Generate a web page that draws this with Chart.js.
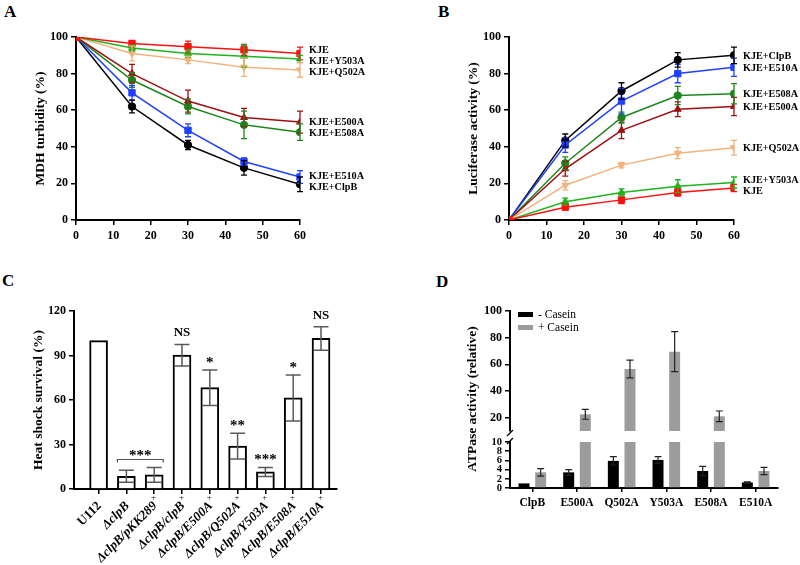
<!DOCTYPE html>
<html>
<head>
<meta charset="utf-8">
<script src="https://cdn.jsdelivr.net/npm/chart.js@4.4.1/dist/chart.umd.min.js"></script>
<style>
  body { margin: 0; background: #fff; width: 800px; height: 565px; position: relative; overflow: hidden; }
  canvas { position: absolute; }
  .panel { position: absolute; font: bold 17px "Liberation Serif", serif; line-height: 1; }
</style>
</head>
<body>
<div class="panel" style="left:4px;top:3px">A</div>
<div class="panel" style="left:438px;top:3px">B</div>
<div class="panel" style="left:2px;top:272px">C</div>
<div class="panel" style="left:436px;top:273px">D</div>
<canvas id="cA" width="400" height="270" style="left:0;top:0"></canvas>
<canvas id="cB" width="400" height="270" style="left:400px;top:0"></canvas>
<canvas id="cC" width="400" height="295" style="left:0;top:270px"></canvas>
<canvas id="cD1" width="400" height="295" style="left:400px;top:270px"></canvas>
<canvas id="cD2" width="400" height="295" style="left:400px;top:270px"></canvas>
<script>
// ---- data ----
const timeMin = [0, 15, 30, 45, 60];
const seriesNames = ['KJE', 'KJE+Y503A', 'KJE+Q502A', 'KJE+E500A', 'KJE+E508A', 'KJE+E510A', 'KJE+ClpB'];

// A: MDH turbidity (%), same order as seriesNames
const mdhValues = [
  [100, 96.5, 94.7, 93, 91],
  [100, 94, 91, 89.5, 88],
  [100, 91, 87.5, 83.5, 82],
  [100, 80, 65, 56, 53.5],
  [100, 76.5, 62, 52, 48],
  [100, 69.5, 49, 32, 23.5],
  [100, 62, 41, 28.5, 19.5]
];
const mdhErrors = [
  [0, 1.5, 3, 3, 3.5],
  [0, 1.5, 2, 6, 2],
  [0, 4, 2, 5, 4],
  [0, 5, 6, 5, 6],
  [0, 4, 4, 7.5, 4.5],
  [0, 4, 3.5, 2, 3.5],
  [0, 3.5, 2.5, 4, 4]
];

// B: luciferase activity (%)
const lucValues = [
  [0, 7, 11, 15, 17.5],
  [0, 10, 15, 18.5, 20.5],
  [0, 19, 30, 36.5, 39.5],
  [0, 28, 49, 60.5, 62],
  [0, 31, 56, 68, 69],
  [0, 41, 65, 80, 83.5],
  [0, 43.5, 70.5, 87.5, 90]
];
const lucErrors = [
  [0, 1.5, 2, 2, 2],
  [0, 2, 2, 3.5, 3],
  [0, 2.5, 1.5, 3, 4],
  [0, 4, 4.5, 4, 5],
  [0, 3.5, 3, 5, 5.5],
  [0, 4, 7, 5, 5],
  [0, 3.5, 4.5, 4, 4.5]
];

// C: heat shock survival (%)
const strains = ['U112', 'ΔclpB', 'ΔclpB/pKK289', 'ΔclpB/clpB', 'ΔclpB/E500A', 'ΔclpB/Q502A', 'ΔclpB/Y503A', 'ΔclpB/E508A', 'ΔclpB/E510A'];
const strainMarks = ['', '', '×', '×', '×', '×', '×', '×', '×'];
const survival = [100, 8.6, 9.5, 90.2, 68.3, 28.9, 11.5, 61.4, 101.5];
const survivalErr = [0, 4, 5, 7.3, 12, 8.7, 3, 15.5, 7.9];
const significance = ['', '', '', 'NS', '*', '**', '***', '*', 'NS'];
const bracketGroup = [1, 2];
const bracketText = '***';

// D: ATPase activity (relative)
const mutants = ['ClpB', 'E500A', 'Q502A', 'Y503A', 'E508A', 'E510A'];
const atpNoCasein = [1, 3.4, 5.9, 6.1, 3.7, 1.2];
const atpNoCaseinErr = [0, 0.6, 0.9, 0.7, 1, 0.15];
const atpCasein = [3.4, 22.5, 56.5, 69.5, 21, 3.7];
const atpCaseinErr = [0.8, 3.7, 6.6, 15, 4, 0.8];

// ---- styles ----
const seriesColors = ['#ff1010', '#1fb31f', '#f3b27c', '#9e1010', '#1f861f', '#2040ff', '#000000'];
const seriesMarkers = ['rect', 'triangle', 'triangle', 'triangle', 'circle', 'rect', 'circle'];
const markerRotation = [0, 0, 180, 0, 0, 0, 0];
const markerRadius = [4.5, 4, 4, 4, 3.7, 4.5, 3.7];
const FONT = '"Liberation Serif", "Times New Roman", serif';

Chart.defaults.font.family = FONT;
Chart.defaults.font.weight = 'bold';
Chart.defaults.font.size = 12;
Chart.defaults.color = '#000';
Chart.defaults.animation = false;
Chart.defaults.responsive = false;
Chart.defaults.plugins.legend.display = false;
Chart.defaults.plugins.tooltip.enabled = false;

function fixedTicks(values) {
  return axis => { axis.ticks = values.map(v => ({value: v})); };
}
const gridStyle = {drawOnChartArea: false, tickLength: 5, color: '#000', lineWidth: 1.5, offset: false};
const borderStyle = {color: '#000', width: 2};

function yAxis(min, max, vals, width, title, size) {
  return {
    min: min, max: max,
    afterBuildTicks: fixedTicks(vals),
    afterFit: s => { s.width = width; },
    grid: gridStyle, border: borderStyle,
    ticks: {padding: 3, autoSkip: false, font: {size: size || 12}},
    title: title ? {display: true, text: title, font: {size: 13.5, weight: 'bold'}, padding: {top: 4, bottom: 4}} : {display: false}
  };
}
function timeAxis() {
  return {
    type: 'linear', min: 0, max: 60,
    afterBuildTicks: fixedTicks([0, 10, 20, 30, 40, 50, 60]),
    afterFit: s => { s.height = 30; },
    grid: gridStyle, border: borderStyle,
    ticks: {padding: 4}
  };
}

// error bars, drawn on the chart's own y scale
const errorBars = {
  id: 'errorBars',
  afterDatasetsDraw(chart, args, opts) {
    const ctx = chart.ctx, ys = chart.scales.y, a = chart.chartArea;
    chart.data.datasets.forEach((ds, i) => {
      if (!ds.errors) return;
      const meta = chart.getDatasetMeta(i);
      ctx.save();
      ctx.beginPath();
      ctx.rect(a.left - 10, a.top - 40, a.right - a.left + 20, a.bottom - a.top + 40);
      ctx.clip();
      ctx.strokeStyle = opts.color || ds.borderColor;
      ctx.lineWidth = opts.width || 1.3;
      meta.data.forEach((el, j) => {
        const e = ds.errors[j];
        const raw = ds.data[j];
        const v = (typeof raw === 'object') ? raw.y : raw;
        if (!e || v < ys.min || v > ys.max) return;
        const x = el.x, y1 = ys.getPixelForValue(v + e), y2 = ys.getPixelForValue(v - e);
        const c = opts.cap || 3;
        ctx.beginPath();
        ctx.moveTo(x, y1); ctx.lineTo(x, y2);
        ctx.moveTo(x - c, y1); ctx.lineTo(x + c, y1);
        ctx.moveTo(x - c, y2); ctx.lineTo(x + c, y2);
        ctx.stroke();
      });
      ctx.restore();
    });
  }
};

// series names at the right end of each line
const endLabels = {
  id: 'endLabels',
  afterDraw(chart, args, opts) {
    const ctx = chart.ctx;
    const items = chart.data.datasets.map((ds, i) => {
      const pts = chart.getDatasetMeta(i).data;
      return {text: ds.label, y: pts[pts.length - 1].y};
    }).sort((p, q) => p.y - q.y);
    for (let k = 0; k < 60; k++) {
      for (let i = 1; i < items.length; i++) {
        const d = items[i].y - items[i - 1].y;
        if (d < opts.gap) {
          const s = (opts.gap - d) / 2;
          items[i].y += s; items[i - 1].y -= s;
        }
      }
    }
    ctx.save();
    ctx.font = 'bold 10.2px ' + FONT;
    ctx.fillStyle = '#000';
    ctx.textBaseline = 'middle';
    ctx.textAlign = 'left';
    items.forEach(it => ctx.fillText(it.text, chart.chartArea.right + opts.dx, it.y + 1));
    ctx.restore();
  }
};

function lineChart(id, values, errors, title, padLeft, padRight) {
  return new Chart(document.getElementById(id), {
    type: 'line',
    data: {
      datasets: seriesNames.map((name, i) => ({
        label: name,
        data: timeMin.map((t, j) => ({x: t, y: values[i][j]})),
        errors: errors[i],
        borderColor: seriesColors[i],
        backgroundColor: seriesColors[i],
        borderWidth: 1.5,
        pointStyle: seriesMarkers[i],
        rotation: markerRotation[i],
        pointRadius: markerRadius[i],
        pointBorderWidth: 1,
        tension: 0
      }))
    },
    options: {
      layout: {padding: {left: padLeft, top: 37, right: padRight, bottom: 20}},
      scales: {
        x: timeAxis(),
        y: yAxis(0, 100, [0, 20, 40, 60, 80, 100], 48, title)
      },
      plugins: {errorBars: {cap: 3, width: 1.3}, endLabels: {gap: 11, dx: 9}}
    },
    plugins: [errorBars, endLabels]
  });
}

lineChart('cA', mdhValues, mdhErrors, 'MDH turbidity (%)', 28, 100);
lineChart('cB', lucValues, lucErrors, 'Luciferase activity (%)', 61, 66);

// ---- C ----
const strainLabels = {
  id: 'strainLabels',
  afterDraw(chart) {
    const ctx = chart.ctx, xs = chart.scales.x, bottom = chart.chartArea.bottom;
    strains.forEach((name, i) => {
      const x = xs.getPixelForValue(i);
      ctx.save();
      ctx.translate(x + 1, bottom + 15);
      ctx.rotate(-Math.PI / 4);
      ctx.fillStyle = '#000';
      ctx.textBaseline = 'middle';
      ctx.textAlign = 'right';
      ctx.font = (i === 0 ? '' : 'italic ') + 'bold 13px ' + FONT;
      ctx.fillText(name, 0, 0);
      if (strainMarks[i]) {
        ctx.textAlign = 'left';
        ctx.font = '8px ' + FONT;
        ctx.fillText(strainMarks[i], 1, -5);
      }
      ctx.restore();
    });
  }
};
const sigMarks = {
  id: 'sigMarks',
  afterDraw(chart) {
    const ctx = chart.ctx, xs = chart.scales.x, ys = chart.scales.y;
    ctx.save();
    ctx.fillStyle = '#000';
    ctx.textAlign = 'center';
    ctx.textBaseline = 'alphabetic';
    significance.forEach((s, i) => {
      if (!s) return;
      ctx.font = 'bold ' + (s === 'NS' ? 13 : 15) + 'px ' + FONT;
      const y = ys.getPixelForValue(survival[i] + survivalErr[i]);
      ctx.fillText(s, xs.getPixelForValue(i), y - (s === 'NS' ? 8 : 3));
    });
    // bracket over a group of bars
    const g0 = bracketGroup[0], g1 = bracketGroup[1];
    const top = Math.min(...bracketGroup.map(i => ys.getPixelForValue(survival[i] + survivalErr[i])));
    const ly = top - 8, x0 = xs.getPixelForValue(g0) - 9, x1 = xs.getPixelForValue(g1) + 9;
    ctx.strokeStyle = '#555';
    ctx.lineWidth = 1.2;
    ctx.beginPath();
    ctx.moveTo(x0, ly + 3); ctx.lineTo(x0, ly); ctx.lineTo(x1, ly); ctx.lineTo(x1, ly + 3);
    ctx.stroke();
    ctx.font = 'bold 15px ' + FONT;
    ctx.fillText(bracketText, (x0 + x1) / 2, ly + 1);
    ctx.restore();
  }
};

new Chart(document.getElementById('cC'), {
  type: 'bar',
  data: {
    datasets: [{
      data: survival.map((v, i) => ({x: i, y: v})),
      errors: survivalErr,
      backgroundColor: '#fff',
      borderColor: '#000',
      borderWidth: 2,
      barThickness: 18
    }]
  },
  options: {
    layout: {padding: {left: 26, top: 41, right: 63, bottom: 68}},
    scales: {
      x: {
        type: 'linear', min: -0.884, max: 8.575, offset: false,
        afterBuildTicks: fixedTicks(strains.map((s, i) => i)),
        afterFit: s => { s.height = 8; },
        grid: gridStyle, border: borderStyle,
        ticks: {display: false}
      },
      y: yAxis(0, 120, [0, 30, 60, 90, 120], 48, 'Heat shock survival (%)')
    },
    plugins: {errorBars: {cap: 7.5, width: 1.5, color: '#5a5a5a'}}
  },
  plugins: [errorBars, strainLabels, sigMarks]
});

// ---- D (broken axis: two charts sharing the same x layout) ----
function caseinData() {
  return {
    labels: mutants,
    datasets: [
      {label: '- Casein', data: atpNoCasein, errors: atpNoCaseinErr, backgroundColor: '#000', clip: 0},
      {label: '+ Casein', data: atpCasein, errors: atpCaseinErr, backgroundColor: '#9c9c9c', clip: 0}
    ]
  };
}
const barLayout = {bar: {categoryPercentage: 0.745, barPercentage: 0.66}};

const caseinLegend = {
  id: 'caseinLegend',
  afterDraw(chart) {
    const ctx = chart.ctx, a = chart.chartArea;
    ctx.save();
    chart.data.datasets.forEach((ds, i) => {
      const y = a.top + 3.5 + i * 13;
      ctx.fillStyle = ds.backgroundColor;
      ctx.fillRect(a.left + 8, y - 2.5, 15, 5);
      ctx.fillStyle = '#000';
      ctx.font = '11.5px ' + FONT;
      ctx.textBaseline = 'middle';
      ctx.fillText(ds.label, a.left + 28, y);
    });
    // break mark below the upper segment
    ctx.strokeStyle = '#000';
    ctx.lineWidth = 1.3;
    ctx.beginPath();
    ctx.moveTo(a.left - 3, a.bottom + 5); ctx.lineTo(a.left + 3, a.bottom - 1);
    ctx.stroke();
    ctx.restore();
  }
};
const lowerDecor = {
  id: 'lowerDecor',
  afterDraw(chart) {
    const ctx = chart.ctx, a = chart.chartArea;
    ctx.save();
    ctx.strokeStyle = '#000';
    ctx.lineWidth = 1.3;
    ctx.beginPath();
    ctx.moveTo(a.left - 3, a.top + 2); ctx.lineTo(a.left + 3, a.top - 4);
    ctx.stroke();
    ctx.translate(73, 129);
    ctx.rotate(-Math.PI / 2);
    ctx.font = 'bold 13.5px ' + FONT;
    ctx.fillStyle = '#000';
    ctx.textAlign = 'center';
    ctx.textBaseline = 'middle';
    ctx.fillText('ATPase activity (relative)', 0, 0);
    ctx.restore();
  }
};

new Chart(document.getElementById('cD1'), {
  type: 'bar',
  data: caseinData(),
  options: {
    layout: {padding: {left: 70, top: 41, right: 22, bottom: 134}},
    datasets: barLayout,
    scales: {
      x: {display: false, grid: {offset: false}},
      y: yAxis(10, 100, [20, 40, 60, 80, 100], 40)
    },
    plugins: {errorBars: {cap: 3.5, width: 1.2, color: '#222'}}
  },
  plugins: [errorBars, caseinLegend]
});

new Chart(document.getElementById('cD2'), {
  type: 'bar',
  data: caseinData(),
  options: {
    layout: {padding: {left: 70, top: 172, right: 22, bottom: 53}},
    datasets: barLayout,
    scales: {
      x: {
        afterFit: s => { s.height = 24; },
        grid: {drawOnChartArea: false, tickLength: 4, color: '#000', lineWidth: 1.5, offset: false},
        border: borderStyle,
        ticks: {padding: 4, font: {size: 11.5}}
      },
      y: yAxis(0, 10, [0, 2, 4, 6, 8, 10], 40, null, 10.5)
    },
    plugins: {errorBars: {cap: 3.5, width: 1.2, color: '#222'}}
  },
  plugins: [errorBars, lowerDecor]
});
</script>
</body>
</html>
